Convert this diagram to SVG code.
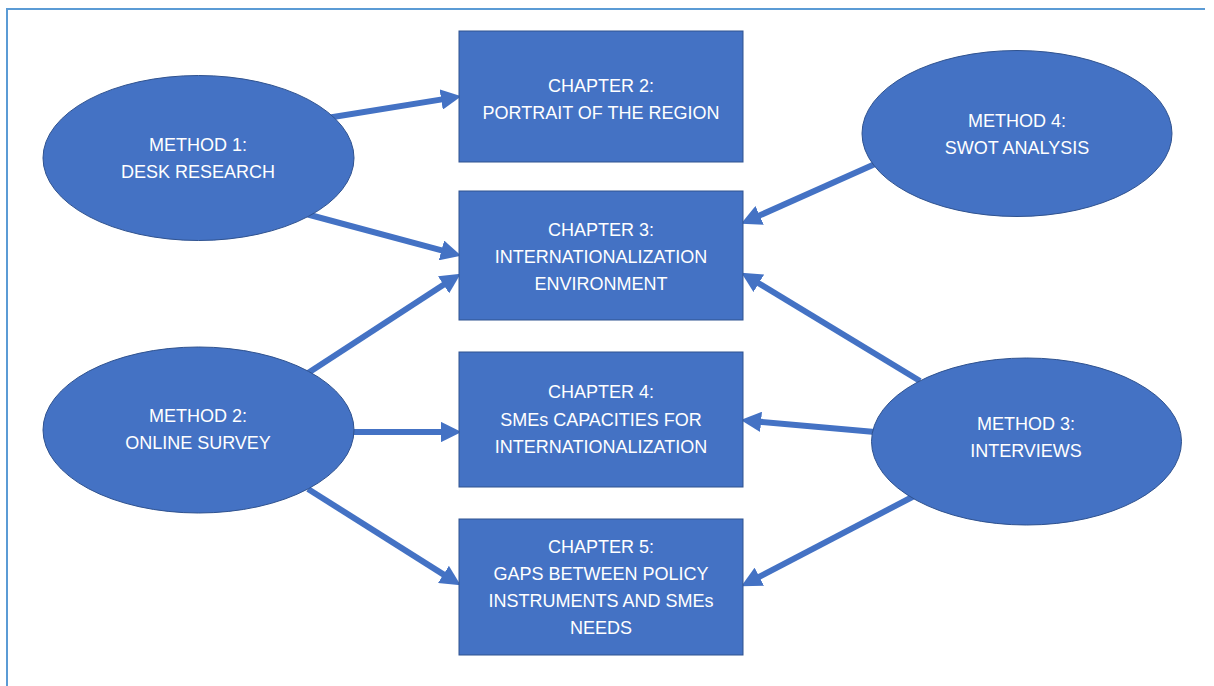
<svg xmlns="http://www.w3.org/2000/svg" width="1214" height="686" viewBox="0 0 1214 686">
<style>
.shape{fill:#4472C4;stroke:#2F528F;stroke-width:1}
.lbl{font-family:"Liberation Sans",Arial,sans-serif;font-size:18px;fill:#FFFFFF;text-anchor:middle}
.conn{stroke:#4472C4;stroke-width:6;fill:none;marker-end:url(#ah)}
</style>
<defs>
<marker id="ah" viewBox="0 0 10 10" refX="2" refY="5" markerWidth="3.4" markerHeight="3.4" orient="auto">
<path d="M0,0 L10,5 L0,10 Z" fill="#4472C4"/>
</marker>
</defs>
<rect width="1214" height="686" fill="#FFFFFF"/>
<path d="M7,686 V9 H1205" fill="none" stroke="#5B9BD5" stroke-width="2"/>
<g id="connectors">
<line class="conn" x1="330" y1="117.5" x2="445.2" y2="98.9"/>
<line class="conn" x1="308" y1="214.5" x2="445.4" y2="251.4"/>
<line class="conn" x1="308" y1="373" x2="447" y2="282.6"/>
<line class="conn" x1="352" y1="432" x2="445" y2="432"/>
<line class="conn" x1="308" y1="489" x2="446.9" y2="576.6"/>
<line class="conn" x1="875" y1="164" x2="755.9" y2="217.1"/>
<line class="conn" x1="920" y1="381" x2="755.3" y2="281.2"/>
<line class="conn" x1="875" y1="432" x2="757" y2="421.5"/>
<line class="conn" x1="920" y1="493" x2="755.7" y2="578.6"/>
</g>
<g id="ch2"><rect class="shape" x="459" y="31" width="284" height="131"/>
<text class="lbl" x="601" y="92">CHAPTER 2:</text><text class="lbl" x="601" y="119">PORTRAIT OF THE REGION</text></g>
<g id="ch3"><rect class="shape" x="459" y="191" width="284" height="129"/>
<text class="lbl" x="601" y="236">CHAPTER 3:</text><text class="lbl" x="601" y="263">INTERNATIONALIZATION</text><text class="lbl" x="601" y="290">ENVIRONMENT</text></g>
<g id="ch4"><rect class="shape" x="459" y="352" width="284" height="135"/>
<text class="lbl" x="601" y="398">CHAPTER 4:</text><text class="lbl" x="601" y="426">SMEs CAPACITIES FOR</text><text class="lbl" x="601" y="453">INTERNATIONALIZATION</text></g>
<g id="ch5"><rect class="shape" x="459" y="519" width="284" height="136"/>
<text class="lbl" x="601" y="553">CHAPTER 5:</text><text class="lbl" x="601" y="580">GAPS BETWEEN POLICY</text><text class="lbl" x="601" y="607">INSTRUMENTS AND SMEs</text><text class="lbl" x="601" y="634">NEEDS</text></g>
<g id="m1"><ellipse class="shape" cx="198.5" cy="158" rx="155.5" ry="82.5"/>
<text class="lbl" x="198" y="151">METHOD 1:</text><text class="lbl" x="198" y="178">DESK RESEARCH</text></g>
<g id="m2"><ellipse class="shape" cx="198.5" cy="430" rx="155.5" ry="83"/>
<text class="lbl" x="198" y="422">METHOD 2:</text><text class="lbl" x="198" y="449">ONLINE SURVEY</text></g>
<g id="m4"><ellipse class="shape" cx="1017" cy="133.5" rx="155" ry="83"/>
<text class="lbl" x="1017" y="127">METHOD 4:</text><text class="lbl" x="1017" y="154">SWOT ANALYSIS</text></g>
<g id="m3"><ellipse class="shape" cx="1026.5" cy="441.5" rx="155" ry="83.5"/>
<text class="lbl" x="1026" y="430">METHOD 3:</text><text class="lbl" x="1026" y="457">INTERVIEWS</text></g>
</svg>
